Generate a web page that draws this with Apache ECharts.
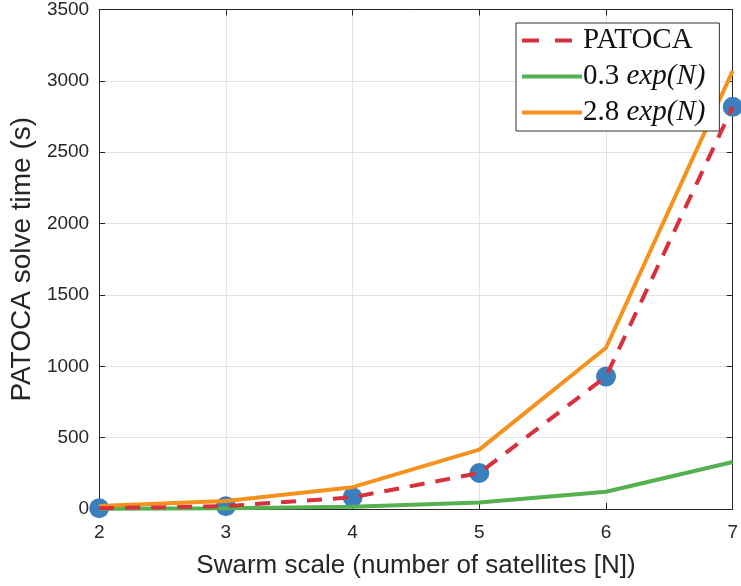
<!DOCTYPE html>
<html>
<head>
<meta charset="utf-8">
<script src="https://cdn.jsdelivr.net/npm/echarts@6/dist/echarts.min.js"></script>
<style>html,body{margin:0;padding:0;background:#fff}#c{width:741px;height:586px}</style>
</head>
<body>
<div id="c"></div>
<script>
// Data
const swarmSizes = [2, 3, 4, 5, 6, 7];
const patocaTimes = [5, 20, 82, 252, 928, 2818];
const lowBound = [2, 6, 16, 45, 121, 329];
const highBound = [21, 56, 153, 416, 1130, 3070];
const yTicks = [0, 500, 1000, 1500, 2000, 2500, 3000, 3500];
const xTicks = [2, 3, 4, 5, 6, 7];
const seriesNames = ['PATOCA', '0.3 exp(N)', '2.8 exp(N)'];

const pairs = arr => swarmSizes.map((x, i) => [x, arr[i]]);
const axisColor = '#262626';
const fontSans = '"Liberation Sans", Arial, Helvetica, sans-serif';
const fontSerif = '"Liberation Serif", "DejaVu Serif", serif';

const chart = echarts.init(document.getElementById('c'), null, {renderer: 'canvas'});
const baseX = {
  type: 'value', min: xTicks[0], max: xTicks[xTicks.length - 1], interval: 1,
  axisLine: {show: true, onZero: false, lineStyle: {color: axisColor, width: 1}},
  axisTick: {show: true, inside: true, length: 6, lineStyle: {color: axisColor}},
  splitLine: {show: false}
};
const baseY = {
  type: 'value', min: yTicks[0], max: yTicks[yTicks.length - 1], interval: 500,
  axisLine: {show: true, onZero: false, lineStyle: {color: axisColor, width: 1}},
  axisTick: {show: true, inside: true, length: 6, lineStyle: {color: axisColor}},
  splitLine: {show: false}
};
chart.setOption({
  animation: false,
  backgroundColor: '#ffffff',
  grid: {left: 97, right: 1, top: 6, bottom: 77, containLabel: false},
  xAxis: [
    Object.assign({}, baseX, {
      position: 'bottom',
      name: 'Swarm scale (number of satellites [N])',
      nameLocation: 'middle', nameGap: 44,
      nameTextStyle: {fontFamily: fontSans, fontSize: 26, color: axisColor},
      axisLabel: {margin: 14, fontFamily: fontSans, fontSize: 19, color: axisColor},
      splitLine: {show: true, lineStyle: {color: '#e3e3e3', width: 1}}
    }),
    Object.assign({}, baseX, {position: 'top', axisLabel: {show: false}})
  ],
  yAxis: [
    Object.assign({}, baseY, {
      position: 'left',
      name: 'PATOCA solve time (s)',
      nameLocation: 'middle', nameGap: 60,
      nameTextStyle: {fontFamily: fontSans, fontSize: 28, color: axisColor},
      axisLabel: {margin: 10, fontFamily: fontSans, fontSize: 19, color: axisColor,
        formatter: v => String(v)},
      splitLine: {show: true, lineStyle: {color: '#e3e3e3', width: 1}}
    }),
    Object.assign({}, baseY, {position: 'right', axisLabel: {show: false}})
  ],
  legend: {
    show: true,
    data: [
      {name: seriesNames[0], lineStyle: {type: [17, 16], width: 4}},
      {name: seriesNames[1]},
      {name: seriesNames[2]}
    ],
    orient: 'vertical',
    left: 516, top: 23,
    backgroundColor: '#ffffff',
    borderColor: '#333333', borderWidth: 1, borderRadius: 0,
    padding: [3, 14, 4, 4],
    itemWidth: 60, itemHeight: 26, itemGap: 7,
    itemStyle: {opacity: 0},
    lineStyle: {width: 4},
    formatter: function (name) {
      if (name === 'PATOCA') return '{n|PATOCA}';
      const parts = name.split(' ');
      return '{n|' + parts[0] + ' }{i|' + parts[1] + '}';
    },
    textStyle: {
      padding: [0, 0, 0, -4],
      rich: {
        n: {fontFamily: fontSerif, fontSize: 29, color: '#111'},
        i: {fontFamily: fontSerif, fontSize: 29, fontStyle: 'italic', color: '#111'}
      }
    }
  },
  series: [
    {
      type: 'scatter', name: 'points', data: pairs(patocaTimes),
      symbol: 'circle', symbolSize: 20, z: 1,
      itemStyle: {color: '#3d7fbd', opacity: 1}
    },
    {
      type: 'line', name: seriesNames[0], data: pairs(patocaTimes),
      symbol: 'none', z: 3,
      lineStyle: {color: '#d7313c', width: 4, type: [15, 11]},
      itemStyle: {color: '#d7313c'}
    },
    {
      type: 'line', name: seriesNames[1], data: pairs(lowBound),
      symbol: 'none', z: 2,
      lineStyle: {color: '#55b04f', width: 4},
      itemStyle: {color: '#55b04f'}
    },
    {
      type: 'line', name: seriesNames[2], data: pairs(highBound),
      symbol: 'none', z: 2,
      lineStyle: {color: '#f5921e', width: 4},
      itemStyle: {color: '#f5921e'}
    }
  ]
});
</script>
</body>
</html>
